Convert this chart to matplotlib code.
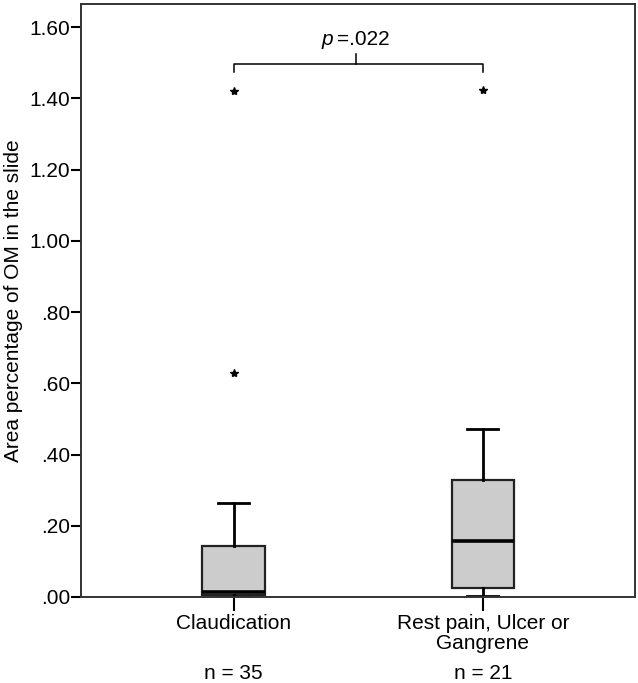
import matplotlib
matplotlib.use("Agg")
import matplotlib.pyplot as plt

plt.rcParams['font.family'] = ['Liberation Sans', 'DejaVu Sans']

# box statistics
groups = ['Claudication', 'Rest pain, Ulcer or\nGangrene']
n_labels = ['n = 35', 'n = 21']
whislo = [0.0, 0.002]
q1 = [0.005, 0.025]
med = [0.015, 0.157]
q3 = [0.142, 0.328]
whishi = [0.265, 0.472]
fliers = [[0.628, 1.422], [1.425]]
yticks = [0.0, 0.2, 0.4, 0.6, 0.8, 1.0, 1.2, 1.4, 1.6]
ytick_labels = ['.00', '.20', '.40', '.60', '.80', '1.00', '1.20', '1.40', '1.60']
p_text = '=.022'

fs = 15

stats = []
for i in range(len(groups)):
    stats.append(dict(whislo=whislo[i], q1=q1[i], med=med[i], q3=q3[i],
                      whishi=whishi[i], fliers=fliers[i], label=groups[i]))

fig = plt.figure(figsize=(6.38, 6.83), dpi=100)
ax = fig.add_axes([0.127, 0.126, 0.868, 0.868])

pos = [1, 2]
ax.bxp(stats, positions=pos, widths=0.25, patch_artist=True,
       boxprops=dict(facecolor='#cccccc', edgecolor='#222222', linewidth=1.6),
       medianprops=dict(color='black', linewidth=2.6),
       whiskerprops=dict(color='black', linewidth=2),
       capprops=dict(color='black', linewidth=2),
       capwidths=0.125,
       flierprops=dict(marker='*', markersize=6, markerfacecolor='black',
                       markeredgecolor='black', linestyle='none'))

ax.set_xlim(0.3875, 2.61)
ax.set_ylim(0, 1.665)
ax.set_yticks(yticks)
ax.set_yticklabels(ytick_labels, fontsize=fs)
ax.set_xticks(pos)
ax.set_xticklabels(groups, fontsize=fs, linespacing=1.1)
ax.tick_params(axis='y', length=7, width=1.5, direction='out', pad=1)
ax.tick_params(axis='x', length=10, width=1.5, direction='out', pad=2)
for s in ax.spines.values():
    s.set_linewidth(1.4)
    s.set_color('#333333')

ax.set_ylabel('Area percentage of OM in the slide', fontsize=fs, labelpad=4)

# group sizes under the labels
for x, t in zip(pos, n_labels):
    ax.annotate(t, xy=(x, 0), xycoords=('data', 'axes fraction'),
                xytext=(0, -55), textcoords='offset points',
                ha='center', va='center', fontsize=fs)

# significance bracket
yb, yend, ytop = 1.497, 1.474, 1.525
ax.plot([1, 1, 2, 2], [yend, yb, yb, yend], color='black', linewidth=1.1)
xm = 1.49
ax.plot([xm, xm], [yb, ytop], color='black', linewidth=1.1)
ax.text(xm - 0.09, 1.54, 'p', style='italic', ha='right', va='bottom', fontsize=fs)
ax.text(xm - 0.075, 1.54, p_text, ha='left', va='bottom', fontsize=fs)

fig.savefig('out.png', dpi=100)
